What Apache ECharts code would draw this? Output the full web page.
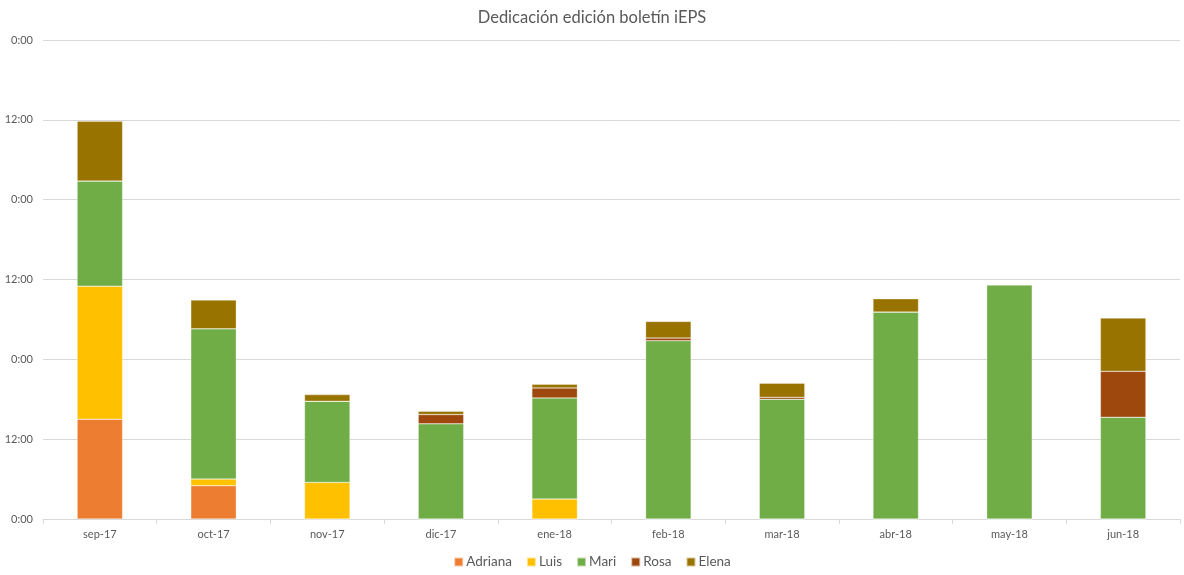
<!DOCTYPE html>
<html>
<head>
<meta charset="utf-8">
<script src="https://cdn.jsdelivr.net/npm/echarts@6/dist/echarts.min.js"></script>
<style>html,body{margin:0;padding:0;background:#fff}#c{width:1184px;height:575px}</style>
</head>
<body>
<div id="c"></div>
<script>
var categories = ['sep-17','oct-17','nov-17','dic-17','ene-18','feb-18','mar-18','abr-18','may-18','jun-18'];
// hours
var adriana = [15, 5, 0, 0, 0, 0, 0, 0, 0, 0];
var luis    = [20, 1, 5.5, 0, 3, 0, 0, 0, 0, 0];
var mari    = [15.8, 22.6, 12.2, 14.3, 15.2, 26.8, 18, 31.1, 35.2, 15.3];
var rosa    = [0, 0, 0, 1.4, 1.5, 0.4, 0.3, 0, 0, 6.9];
var elena   = [9, 4.3, 1, 0.5, 0.55, 2.5, 2.1, 2, 0, 8];
var yTicks = ['0:00','12:00'];

var font = 'Lato, "Open Sans", sans-serif';
function s(name, data, color){
  return {name:name, type:'bar', stack:'t', data:data, barWidth:'40%',
    itemStyle:{color:color, borderColor:'rgba(255,255,255,0.6)', borderWidth:0.5},
    emphasis:{disabled:true}};
}
var chart = echarts.init(document.getElementById('c'));
chart.setOption({
  animation:false,
  title:{text:'Dedicación edición boletín iEPS', left:'center', top:4,
    textStyle:{fontFamily:font, fontSize:16.5, fontWeight:'normal', color:'#595959'}},
  legend:{bottom:1, left:'center', itemWidth:9, itemHeight:9, itemGap:14, icon:'rect',
    textStyle:{fontFamily:font, fontSize:13.5, color:'#595959', padding:[0,0,0,-2]}},
  grid:{left:43, right:4, top:40, bottom:56},
  xAxis:{type:'category', data:categories,
    axisLine:{lineStyle:{color:'#d9d9d9'}},
    axisTick:{show:true, length:5, lineStyle:{color:'#d9d9d9'}},
    axisLabel:{fontFamily:font, fontSize:11, color:'#595959', margin:10}},
  yAxis:{type:'value', min:0, max:72, interval:12,
    axisLine:{show:false}, axisTick:{show:false},
    splitLine:{lineStyle:{color:'#d9d9d9'}},
    axisLabel:{fontFamily:font, fontSize:11, color:'#595959', margin:10,
      formatter:function(v){return yTicks[(v/12)%2];}}},
  series:[s('Adriana',adriana,'#ED7D31'), s('Luis',luis,'#FFC000'), s('Mari',mari,'#70AD47'),
          s('Rosa',rosa,'#9E480E'), s('Elena',elena,'#997300')]
});
</script>
</body>
</html>
